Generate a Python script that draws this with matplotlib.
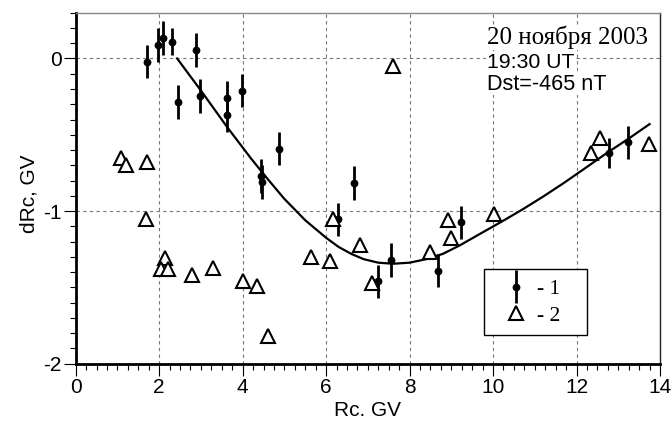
import matplotlib
matplotlib.use("Agg")
import matplotlib.pyplot as plt
from matplotlib.ticker import MultipleLocator
from matplotlib.legend_handler import HandlerErrorbar

# ---- data ----
rc1 = [1.70, 1.96, 2.09, 2.30, 2.88, 2.45, 2.99, 3.63, 3.63, 3.98, 4.86,
       4.43, 4.47, 6.67, 6.28, 7.25, 7.55, 8.68, 9.24, 12.77, 13.23]
drc1 = [-0.02, 0.09, 0.135, 0.11, 0.054, -0.284, -0.247, -0.256, -0.37, -0.21, -0.59,
        -0.77, -0.81, -0.815, -1.054, -1.46, -1.32, -1.39, -1.074, -0.618, -0.55]
err1 = [0.11, 0.11, 0.11, 0.09, 0.11, 0.11, 0.11, 0.11, 0.11, 0.11, 0.11,
        0.11, 0.11, 0.11, 0.11, 0.11, 0.11, 0.11, 0.11, 0.10, 0.11]

rc2 = [1.08, 1.20, 1.72, 1.68, 2.14, 2.04, 2.21, 2.79, 3.30, 4.01, 4.35, 4.61,
       5.63, 6.09, 6.17, 6.80, 7.10, 7.60, 8.50, 8.92, 9.00, 10.02, 12.35, 12.57, 13.73]
drc2 = [-0.65, -0.70, -0.68, -1.054, -1.31, -1.38, -1.38, -1.42, -1.37, -1.46, -1.49, -1.82,
        -1.30, -1.325, -1.054, -1.22, -1.47, -0.046, -1.27, -1.06, -1.175, -1.02, -0.618, -0.52, -0.56]

fit_x = [2.43, 3.0, 3.63, 4.2, 4.6, 5.0, 5.5, 6.0, 6.3, 6.6, 6.9, 7.25, 7.6, 8.0, 8.4,
         8.8, 9.2, 9.65, 10.2, 10.7, 11.2, 11.7, 12.2, 12.75, 13.25, 13.75]
fit_y = [0.0, -0.21, -0.45, -0.655, -0.79, -0.92, -1.06, -1.175, -1.235, -1.28, -1.315,
         -1.338, -1.345, -1.338, -1.315, -1.28, -1.225, -1.155, -1.07, -0.99, -0.905,
         -0.815, -0.72, -0.615, -0.525, -0.43]

xticks = [0, 2, 4, 6, 8, 10, 12, 14]
yticks = [0, -1, -2]
ytick_labels = ["0", "-1", "-2"]

title_lines = ["20 ноября 2003", "19:30 UT", "Dst=-465 nT"]
legend_labels = ["- 1", "- 2"]

# ---- figure ----
W, H = 672, 425
fig = plt.figure(figsize=(W / 100, H / 100), dpi=100)
ax_l, ax_r, ax_t, ax_b = 75.7, 660.0, 12.7, 363.7
ax = fig.add_axes([ax_l / W, 1 - ax_b / H, (ax_r - ax_l) / W, (ax_b - ax_t) / H])

sans = "Liberation Sans"
serif = "Liberation Serif"

ax.set_xlim(0, 14)
ax.set_ylim(-2, 0.3)

ax.grid(True, which="major", color="#777777", linestyle=(0, (3, 3)), linewidth=0.8)
ax.set_axisbelow(True)

ax.plot(fit_x, fit_y, color="black", linewidth=1.6, zorder=3)

eb = ax.errorbar(rc1, drc1, yerr=err1, fmt="o", color="black", markersize=4.6,
                 elinewidth=2.0, capsize=0, zorder=4)
tri, = ax.plot(rc2, drc2, linestyle="none", marker="^", markersize=9.5,
               markerfacecolor="white", markeredgecolor="black", markeredgewidth=1.5,
               zorder=5)

ax.set_xticks(xticks)
ax.set_xticklabels([str(v) for v in xticks], fontfamily=sans, fontsize=15)
ax.set_yticks(yticks)
ax.set_yticklabels(ytick_labels, fontfamily=sans, fontsize=15)
ax.xaxis.set_minor_locator(MultipleLocator(0.25))
ax.yaxis.set_minor_locator(MultipleLocator(0.1))
ax.tick_params(which="major", direction="out", length=8.6, width=0.8, pad=1.5, color="black")
ax.tick_params(which="minor", direction="out", length=4.3, width=0.8, color="black")

for s in ["left", "bottom"]:
    ax.spines[s].set_linewidth(2.0)
    ax.spines[s].set_color("black")
ax.spines["top"].set_linewidth(1.0)
ax.spines["top"].set_color("#888888")
ax.spines["right"].set_linewidth(1.0)
ax.spines["right"].set_color("#222222")

ax.set_xlabel("Rc. GV", fontfamily=sans, fontsize=15)
ax.xaxis.set_label_coords(0.5, -0.107)
ax.set_ylabel("dRc, GV", fontfamily=sans, fontsize=15)
ax.yaxis.set_label_coords(-0.0645, 0.483)

# annotation text
tx = 487 / W
fig.text(tx, 1 - 37 / H, title_lines[0], fontfamily=serif, fontsize=18, va="center", ha="left",
         bbox=dict(facecolor="white", edgecolor="none", pad=0.5))
fig.text(tx, 1 - 62 / H, title_lines[1], fontfamily=sans, fontsize=15.3, va="center", ha="left",
         bbox=dict(facecolor="white", edgecolor="none", pad=0.5))
fig.text(tx, 1 - 84 / H, title_lines[2], fontfamily=sans, fontsize=15.6, va="center", ha="left",
         bbox=dict(facecolor="white", edgecolor="none", pad=0.5))

# legend
lx0, lx1, ly0, ly1 = 484.3, 587.3, 269.3, 335.7
leg = ax.legend([eb, tri], legend_labels,
                handler_map={type(eb): HandlerErrorbar(yerr_size=0.75)},
                loc="upper left", mode="expand",
                bbox_to_anchor=(lx0 / W, 1 - ly0 / H, (lx1 - lx0) / W, 0.0),
                bbox_transform=fig.transFigure,
                prop={"family": serif, "size": 15.5}, frameon=True, fancybox=False,
                edgecolor="black", framealpha=1, borderpad=0.45, borderaxespad=0,
                handlelength=2.0, handletextpad=0.0, labelspacing=0.3)
leg.get_frame().set_linewidth(1.0)

fig.savefig("out.png", dpi=100)
